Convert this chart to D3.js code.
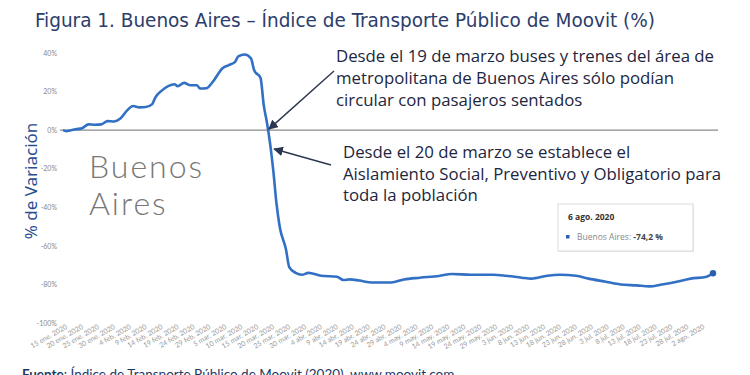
<!DOCTYPE html>
<html>
<head>
<meta charset="utf-8">
<script src="https://cdn.jsdelivr.net/npm/d3@7"></script>
<style>
  body { margin: 0; background: #fff; }
  svg { display: block; }
</style>
</head>
<body>
<script>
// values (% change vs baseline)
var dates = ["2020-01-15","2020-01-16","2020-01-19","2020-01-21","2020-01-23","2020-01-25","2020-01-27","2020-01-29","2020-01-31",
  "2020-02-02","2020-02-04","2020-02-06","2020-02-08","2020-02-10","2020-02-12","2020-02-13","2020-02-15","2020-02-17","2020-02-19",
  "2020-02-20","2020-02-22","2020-02-24","2020-02-26","2020-02-27","2020-02-29","2020-03-02","2020-03-05","2020-03-07","2020-03-09",
  "2020-03-10","2020-03-12","2020-03-14","2020-03-15","2020-03-17","2020-03-18","2020-03-19","2020-03-20","2020-03-21","2020-03-22",
  "2020-03-23","2020-03-25","2020-03-26","2020-03-28","2020-03-30","2020-04-01","2020-04-05","2020-04-10","2020-04-12","2020-04-14",
  "2020-04-17","2020-04-21","2020-04-27","2020-05-01","2020-05-06","2020-05-12","2020-05-16","2020-05-22","2020-05-29","2020-06-02",
  "2020-06-07","2020-06-10","2020-06-15","2020-06-19","2020-06-24","2020-06-28","2020-07-03","2020-07-08","2020-07-13","2020-07-17",
  "2020-07-21","2020-07-26","2020-07-30","2020-08-04","2020-08-06"];
var values = [0,-0.5,0.5,1,3,2.8,3,4.7,4.5,
  6,10,12.5,11.8,12,13.5,17,20.5,22.8,23.8,
  22.8,24.5,23.3,23.3,21.6,21.7,25,32,33.7,35.4,
  38.3,39.2,37.2,31,27,13,4,-7,-21,-38,
  -50,-62,-71,-74,-75,-74,-75.5,-76,-77.7,-77.4,
  -78,-79,-79,-77.4,-76.5,-75.6,-74.6,-75,-75,-75.5,
  -76.5,-77,-75.5,-75,-75.5,-77,-78.5,-80,-80.5,-81,
  -80,-78.5,-77,-76,-74.2];

var yTicks = [40,20,0,-20,-40,-60,-80,-100];
var xTickLabels = ["15 ene. 2020","20 ene. 2020","25 ene. 2020","30 ene. 2020","4 feb. 2020","9 feb. 2020","14 feb. 2020",
  "19 feb. 2020","24 feb. 2020","29 feb. 2020","5 mar. 2020","10 mar. 2020","15 mar. 2020","20 mar. 2020","25 mar. 2020",
  "30 mar. 2020","4 abr. 2020","9 abr. 2020","14 abr. 2020","19 abr. 2020","24 abr. 2020","29 abr. 2020","4 may. 2020",
  "9 may. 2020","14 may. 2020","19 may. 2020","24 may. 2020","29 may. 2020","3 jun. 2020","8 jun. 2020","13 jun. 2020",
  "18 jun. 2020","23 jun. 2020","28 jun. 2020","3 jul. 2020","8 jul. 2020","13 jul. 2020","18 jul. 2020","23 jul. 2020",
  "28 jul. 2020","2 ago. 2020"];

var note1 = ["Desde el 19 de marzo buses y trenes del área de",
  "metropolitana de Buenos Aires sólo podían",
  "circular con pasajeros sentados"];
var note2 = ["Desde el 20 de marzo se establece el",
  "Aislamiento Social, Preventivo y Obligatorio para",
  "toda la población"];

var months = {"ene.":0,"feb.":1,"mar.":2,"abr.":3,"may.":4,"jun.":5,"jul.":6,"ago.":7};
var parse = d3.timeParse("%Y-%m-%d");
var data = dates.map(function(d,i){ return {date: parse(d), value: values[i]}; });
var tickDates = xTickLabels.map(function(s){
  var p = s.split(" ");
  return new Date(+p[2], months[p[1]], +p[0]);
});

var width = 750, height = 375;
var svg = d3.select("body").append("svg")
    .attr("width", width)
    .attr("height", height);

var x = d3.scaleTime()
    .domain([data[0].date, data[data.length-1].date])
    .range([63, 713]);
var y = d3.scaleLinear()
    .domain([-100, 40])
    .range([323, 53]);

// title
svg.append("text")
    .attr("x", 35)
    .attr("y", 27)
    .attr("textLength", 620)
    .attr("lengthAdjust", "spacingAndGlyphs")
    .style("font-family", "'DejaVu Sans Condensed', 'Open Sans', sans-serif")
    .style("font-size", "20px")
    .style("fill", "#2c3d6b")
    .text("Figura 1. Buenos Aires – Índice de Transporte Público de Moovit (%)");

// y axis
var yAxis = d3.axisLeft(y).tickValues(yTicks).tickSize(0).tickPadding(0)
    .tickFormat(function(d){ return d + "%"; });
var gy = svg.append("g")
    .attr("transform", "translate(57,0)")
    .call(yAxis);
gy.select(".domain").remove();
gy.selectAll("text")
    .style("font-family", "Lato, 'Open Sans', sans-serif")
    .style("font-size", "7px")
    .style("fill", "#888");

svg.append("text")
    .attr("transform", "translate(37,181) rotate(-90)")
    .style("text-anchor", "middle")
    .style("font-family", "'Noto Sans', 'Open Sans', sans-serif")
    .style("font-size", "17px")
    .style("fill", "#2a4d8f")
    .text("% de Variación");

// x axis
var xAxis = d3.axisBottom(x).tickValues(tickDates).tickSize(0)
    .tickFormat(function(d,i){ return xTickLabels[i]; });
var gx = svg.append("g")
    .attr("transform", "translate(0,326)")
    .call(xAxis);
gx.select(".domain").remove();
gx.selectAll("text")
    .attr("y", 0)
    .attr("dy", "0.35em")
    .attr("transform", "translate(3,0) rotate(-30)")
    .style("text-anchor", "end")
    .style("font-family", "Lato, 'Open Sans', sans-serif")
    .style("font-size", "7px")
    .style("fill", "#999");

// zero line
svg.append("line")
    .attr("x1", 60).attr("x2", 718)
    .attr("y1", y(0)).attr("y2", y(0))
    .attr("stroke", "#8a8a8a")
    .style("stroke-width", 1.2);

// big watermark label
svg.selectAll(".city")
    .data(["Buenos", "Aires"])
    .enter().append("text")
    .attr("class", "city")
    .attr("x", 89)
    .attr("y", function(d,i){ return 178 + i*37; })
    .style("font-family", "Lato, 'Open Sans', sans-serif")
    .style("font-weight", 300)
    .style("font-size", "32px")
    .style("letter-spacing", "2px")
    .style("fill", "#777")
    .text(function(d){ return d; });

// series line
var line = d3.line()
    .x(function(d){ return x(d.date); })
    .y(function(d){ return y(d.value); })
    .curve(d3.curveMonotoneX);
svg.append("path")
    .datum(data)
    .attr("fill", "none")
    .attr("stroke", "#3170c4")
    .style("stroke-width", 2.6)
    .attr("stroke-linejoin", "round")
    .attr("d", line);

var last = data[data.length-1];
svg.append("circle")
    .attr("cx", x(last.date))
    .attr("cy", y(last.value))
    .attr("r", 3.2)
    .style("fill", "#2a5fae");

// arrows
var defs = svg.append("defs");
defs.append("marker")
    .attr("id", "arrow")
    .attr("viewBox", "0 0 10 10")
    .attr("refX", 9).attr("refY", 5)
    .attr("markerWidth", 7).attr("markerHeight", 7)
    .attr("orient", "auto")
  .append("path")
    .attr("d", "M0,0 L10,5 L0,10 z")
    .style("fill", "#2b3650");

var d19 = new Date(2020, 2, 19), d20 = new Date(2020, 2, 20);
svg.append("line")
    .attr("x1", 334).attr("y1", 71)
    .attr("x2", x(d19) + 2).attr("y2", y(0) - 1)
    .attr("stroke", "#2b3650")
    .style("stroke-width", 1.4)
    .attr("marker-end", "url(#arrow)");
svg.append("line")
    .attr("x1", 331).attr("y1", 165)
    .attr("x2", x(d20) + 4).attr("y2", 149)
    .attr("stroke", "#2b3650")
    .style("stroke-width", 1.4)
    .attr("marker-end", "url(#arrow)");

// annotation texts
var noteFont = "'Open Sans', Lato, sans-serif";
svg.selectAll(".note1")
    .data(note1)
    .enter().append("text")
    .attr("class", "note1")
    .attr("x", 336)
    .attr("y", function(d,i){ return 62 + i*22; })
    .style("font-family", noteFont)
    .style("font-size", "16.8px")
    .style("fill", "#1d2640")
    .text(function(d){ return d; });
svg.selectAll(".note2")
    .data(note2)
    .enter().append("text")
    .attr("class", "note2")
    .attr("x", 343)
    .attr("y", function(d,i){ return 158 + i*21.5; })
    .style("font-family", noteFont)
    .style("font-size", "16.8px")
    .style("fill", "#1d2640")
    .text(function(d){ return d; });

// tooltip box
var tip = svg.append("g").attr("transform", "translate(558,204)");
tip.append("rect")
    .attr("x", 1).attr("y", 1)
    .attr("width", 135).attr("height", 47)
    .style("fill", "#e6e6e6");
tip.append("rect")
    .attr("width", 135).attr("height", 47)
    .style("fill", "#fff")
    .style("stroke", "#dcdcdc")
    .style("stroke-width", 1);
tip.append("text")
    .attr("x", 10).attr("y", 16)
    .style("font-family", "'Open Sans', Lato, sans-serif")
    .style("font-size", "8.5px")
    .style("font-weight", 700)
    .style("fill", "#333")
    .text("6 ago. 2020");
tip.append("rect")
    .attr("x", 8).attr("y", 31)
    .attr("width", 3.5).attr("height", 3.5)
    .style("fill", "#2a5fae");
var tt = tip.append("text")
    .attr("x", 19).attr("y", 36)
    .style("font-family", "'Open Sans', Lato, sans-serif")
    .style("font-size", "8.5px");
tt.append("tspan").style("fill", "#888").text("Buenos Aires: ");
tt.append("tspan").style("fill", "#444").style("font-weight", 700).text("-74,2 %");

// source line (cut by the frame edge, as in the original)
var src = svg.append("text")
    .attr("x", 22).attr("y", 379)
    .style("font-family", "Lato, sans-serif")
    .style("font-size", "13.5px")
    .style("fill", "#1f3864");
src.append("tspan").style("font-weight", 700).style("text-decoration", "underline").text("Fuente");
src.append("tspan").text(": Índice de Transporte Público de Moovit (2020). www.moovit.com");
</script>
</body>
</html>
